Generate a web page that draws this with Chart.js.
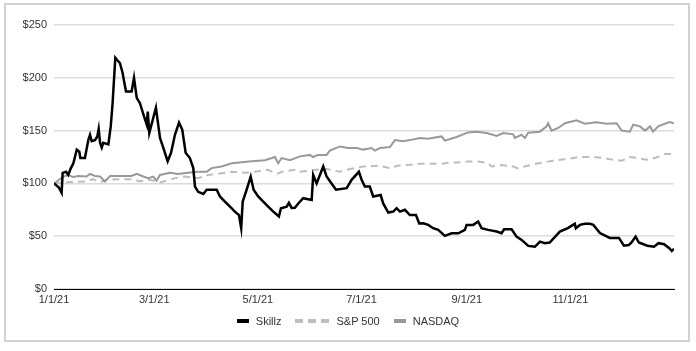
<!DOCTYPE html>
<html>
<head>
<meta charset="utf-8">
<script src="https://cdn.jsdelivr.net/npm/chart.js@4/dist/chart.umd.min.js"></script>
<style>
  html, body { margin: 0; padding: 0; background: #fff; }
  body { width: 696px; height: 351px; position: relative; overflow: hidden; font-family: "Liberation Sans", Arial, sans-serif; }
  #frame { position: absolute; left: 4px; top: 3px; width: 682px; height: 335px; border: 2px solid #d2d2d2; }
  #wrap { position: absolute; left: 0; top: 0; width: 696px; height: 351px; }
  #legend { position: absolute; left: 0; top: 315px; width: 696px; text-align: center; font-size: 11px; color: #333; }
  #legend span.item { display: inline-block; margin: 0 7px; }
  #legend span.mark { display: inline-block; height: 4px; vertical-align: middle; margin-right: 7px; position: relative; top: -1px; }
</style>
</head>
<body>
<div id="frame"></div>
<div id="wrap"><canvas id="chart" width="696" height="351"></canvas></div>
<div id="legend"></div>
<script>
// x values are days since 1/1/21
var tickDays = [0, 59, 120, 181, 243, 304];
var tickLabels = ['1/1/21', '3/1/21', '5/1/21', '7/1/21', '9/1/21', '11/1/21'];
var yTicks = [0, 50, 100, 150, 200, 250];

var skillzDays = [0, 2.9, 4.5, 5.1, 7.1, 8.4, 9.8, 11.4, 13.4, 14.9, 15.5, 18.2, 20.2, 21.2, 22.2, 24.1, 25.5, 26.3, 27.1, 28.1,
  29.0, 32.0, 33.4, 34.5, 36.1, 37.3, 38.8, 40.4, 41.8, 42.4, 45.7, 47.1, 48.7, 50.6, 53.0, 54.6, 55.2, 56.1, 60.0, 62.4,
  64.7, 66.9, 68.9, 71.2, 73.6, 75.5, 77.5, 80.0, 82.0, 83.0, 84.9, 87.9, 89.9, 95.8, 97.7, 100.6, 103.6, 106.5, 108.9, 110.2,
  111.1, 113.4, 115.8, 117.5, 120.2, 123.2, 126.1, 129.1, 132.4, 133.6, 137.0, 138.3, 139.9, 141.8, 143.8, 146.7, 151.7, 152.6, 154.6, 157.0,
  158.5, 160.5, 163.4, 166.0, 172.3, 175.2, 179.5, 181.1, 183.0, 185.9, 187.9, 192.3, 193.8, 196.8, 199.7, 201.7, 203.7, 206.6, 209.5, 213.1,
  215.0, 217.4, 220.3, 223.2, 226.2, 230.1, 234.1, 238.0, 241.9, 242.9, 246.8, 249.7, 251.7, 255.6, 260.6, 263.5, 265.0, 269.4, 272.3, 275.3,
  279.2, 283.1, 286.1, 289.0, 291.8, 297.8, 302.5, 306.6, 307.2, 309.6, 312.5, 315.5, 317.5, 321.4, 327.2, 332.6, 335.5, 338.4, 340.0, 342.4,
  344.3, 349.3, 353.2, 355.9, 359.2, 362.2, 363.7, 365];
var skillzValues = [100, 96, 91, 110, 111, 108, 114, 119, 132, 130, 124, 124, 141, 146, 140, 141, 144.5, 151.5, 138.5, 134,
  138.5, 137, 154, 176, 219, 216.6, 214, 204.6, 192, 187, 187, 200, 181, 176, 163.5, 155.6, 168, 147.7, 171.7, 143,
  132, 121, 129, 146, 157.5, 151, 129, 124, 114.5, 97, 92, 90, 94, 94, 87.6, 82.8, 78, 73.3, 70, 57.6,
  82.8, 94, 106.5, 94, 87.6, 82.8, 78, 73.3, 68.6, 76.5, 78, 81.6, 76.8, 77, 81, 86, 84.4, 108, 100, 109.8,
  116, 106.5, 100, 94, 95.5, 103.4, 111, 103.4, 97, 97, 87.6, 89, 81, 72.4, 73.3, 76.5, 73.3, 75, 70, 70,
  62, 62.3, 60.7, 57.6, 56, 50.3, 52.8, 52.8, 56, 60.7, 60.7, 63.9, 57.6, 56, 54.4, 52.8, 56.6, 56.6, 49.6, 46.5,
  40.8, 40, 44.9, 43.4, 44, 54.4, 57.6, 61.7, 57.6, 60.7, 61.7, 61.7, 60.7, 53, 48.4, 48.4, 41, 41.7, 44, 49.6,
  44, 41, 40, 43.4, 42.4, 38.6, 36, 38];

var spDays = [0, 7.5, 13.4, 19.2, 23.1, 27.1, 31.0, 38.8, 44.7, 50.6, 56.5, 62.4, 68.3, 71.2, 77.1, 84.8, 90.6, 96.5, 104.6, 112.4,
  118.3, 126.0, 131.1, 134.0, 141.8, 144.8, 154.6, 160.5, 168.3, 174.2, 182.0, 191.9, 198.8, 201.7, 209.5, 215.4, 228.2, 233.1, 237.8, 243.7,
  249.6, 255.4, 257.6, 263.5, 270.4, 273.1, 279.2, 286.1, 293.7, 301.8, 308.6, 317.5, 323.4, 329.2, 334.2, 339.0, 343.9, 348.8, 353.7, 359.6, 365];
var spValues = [100, 101, 101.5, 102, 104, 101, 103.5, 104, 104, 102, 103.5, 101, 103.5, 105, 106.5, 105, 108, 109, 111, 110,
  111, 113, 109, 111, 113, 111, 113, 113.6, 111, 113.6, 116, 116.7, 114, 116.7, 117.6, 118.6, 118.6, 119.8, 119.8, 120.8,
  120.8, 119.3, 116, 117.3, 116, 114.2, 117, 119.3, 121.4, 123, 125, 125, 124, 122.4, 121.4, 125, 124, 122.4, 124, 127.8, 127.8];

var nasdaqDays = [0, 5.5, 8.4, 11.4, 14.3, 19.2, 21.2, 24.1, 27.1, 30.0, 33.0, 40.8, 45.7, 48.7, 52.6, 55.5, 58.4, 60.4, 62.4, 68.3,
  73.0, 78.9, 84.8, 89.9, 92.8, 98.7, 104.6, 110.5, 116.4, 124.2, 130.1, 132.0, 134.0, 138.9, 144.8, 150.7, 152.4, 155.4, 160.5, 162.4,
  168.3, 173.0, 178.2, 181.9, 187.0, 188.9, 191.9, 197.8, 200.7, 205.4, 209.5, 215.4, 220.1, 228.2, 230.1, 237.0, 243.7, 248.8, 254.7, 260.6,
  264.5, 270.4, 271.3, 275.3, 277.2, 279.2, 286.1, 290.0, 290.9, 292.9, 296.8, 300.8, 307.6, 312.5, 319.4, 325.3, 331.2, 334.2, 339.0, 341.0,
  345.0, 347.9, 350.9, 352.7, 355.7, 359.6, 362.5, 365];
var nasdaqValues = [100, 106.5, 108, 106, 107, 106.5, 109, 107, 106.5, 101.8, 107, 107, 107, 109, 106.5, 105, 106.5, 102.7, 108, 110,
  109, 110, 111, 111, 114.5, 116, 119, 120, 121, 122, 125, 119, 124, 122, 125.6, 127, 125, 127, 127, 131,
  135, 133.5, 133.5, 132, 133.5, 131, 133.5, 134.4, 141, 140, 141, 143, 142.3, 144.5, 140.5, 144, 148.3, 149, 147.7, 145,
  147.7, 146.5, 143, 146, 143, 148, 149, 154, 157, 150, 152.5, 157, 159.7, 156.5, 158, 156.5, 157, 150, 149, 155.6,
  154, 150, 154, 149, 154, 156.5, 158, 157];

function toPoints(days, values) {
  return days.map(function (d, i) { return { x: d, y: values[i] }; });
}

var ctx = document.getElementById('chart').getContext('2d');
Chart.defaults.font.family = '"Liberation Sans", Arial, sans-serif';
Chart.defaults.font.size = 11;
Chart.defaults.color = '#333';

var myChart = new Chart(ctx, {
  type: 'line',
  data: {
    datasets: [{
      label: 'Skillz',
      data: toPoints(skillzDays, skillzValues),
      borderColor: '#000',
      backgroundColor: '#000',
      borderWidth: 2.5,
      pointRadius: 0,
      tension: 0,
      order: 0
    }, {
      label: 'S&P 500',
      data: toPoints(spDays, spValues),
      borderColor: '#bdbdbd',
      backgroundColor: '#bdbdbd',
      borderWidth: 2,
      borderDash: [7, 5],
      pointRadius: 0,
      tension: 0,
      order: 2
    }, {
      label: 'NASDAQ',
      data: toPoints(nasdaqDays, nasdaqValues),
      borderColor: '#999',
      backgroundColor: '#999',
      borderWidth: 2,
      pointRadius: 0,
      tension: 0,
      order: 1
    }]
  },
  options: {
    responsive: false,
    animation: false,
    layout: { padding: { left: 4, right: 22, top: 25, bottom: 42 } },
    plugins: {
      legend: { display: false },
      tooltip: { enabled: false }
    },
    scales: {
      x: {
        type: 'linear',
        min: 0,
        max: 365,
        afterBuildTicks: function (axis) {
          axis.ticks = tickDays.map(function (d) { return { value: d }; });
        },
        afterFit: function (axis) { axis.height = 20; },
        ticks: {
          autoSkip: false,
          maxRotation: 0,
          padding: 4,
          color: '#333',
          callback: function (value) {
            var i = tickDays.indexOf(value);
            return i >= 0 ? tickLabels[i] : '';
          }
        },
        grid: { display: false, drawTicks: false },
        border: { display: true, color: '#000', width: 1 }
      },
      y: {
        min: 0,
        max: 250,
        afterBuildTicks: function (axis) {
          axis.ticks = yTicks.map(function (v) { return { value: v }; });
        },
        afterFit: function (axis) { axis.width = 50; },
        ticks: {
          padding: 7,
          color: '#333',
          callback: function (value) { return '$' + value; }
        },
        grid: { color: '#dcdcdc', lineWidth: 1.5, drawTicks: false },
        border: { display: false }
      }
    }
  }
});

// legend below the chart
var legendItems = [
  { label: 'Skillz', bg: '#000', width: 12 },
  { label: 'S&P 500', bg: 'repeating-linear-gradient(to right, #bdbdbd 0, #bdbdbd 8px, transparent 8px, transparent 13px)', width: 34 },
  { label: 'NASDAQ', bg: '#999', width: 12 }
];
var legend = document.getElementById('legend');
legendItems.forEach(function (item) {
  var el = document.createElement('span');
  el.className = 'item';
  var mark = document.createElement('span');
  mark.className = 'mark';
  mark.style.width = item.width + 'px';
  mark.style.background = item.bg;
  el.appendChild(mark);
  el.appendChild(document.createTextNode(item.label));
  legend.appendChild(el);
});
</script>
</body>
</html>
